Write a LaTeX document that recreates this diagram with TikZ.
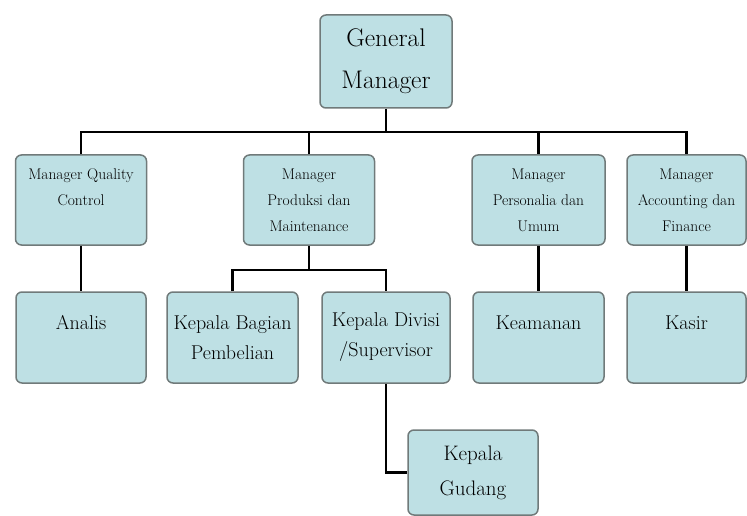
\documentclass[tikz,border=0pt]{standalone}
\usetikzlibrary{calc}
\definecolor{boxfill}{RGB}{190,224,228}
\definecolor{boxline}{RGB}{112,122,122}

\begin{document}
\begin{tikzpicture}[x=1pt,y=-1pt,
    box/.style={
      draw=boxline,
      fill=boxfill,
      line width=1.5pt,
      rounded corners=6pt,
      align=center,
      inner sep=2pt,
      minimum width=131pt,
      minimum height=90pt
    }]
\tikzset{lvlone/.style = {box,font=\fontsize{15.5}{26}\selectfont}}
\tikzset{lvltwo/.style = {box,minimum height=91pt,font=\fontsize{20}{30}\selectfont}}
\tikzset{link/.style = {line width=2.8pt,black}}
\useasboundingbox (0,0) rectangle (747,516);
\node[box,minimum width=132pt,minimum height=93pt,font=\fontsize{25.5}{42}\selectfont] (gm) at (386,61.5) {General\\Manager};
\node[lvlone] (qc) at (81,200) {Manager Quality\\Control\\\mbox{}};
\node[lvlone] (prod) at (309,200) {Manager\\Produksi dan\\Maintenance};
\node[lvlone,minimum width=133pt] (pers) at (538.5,200) {Manager\\Personalia dan\\Umum};
\node[lvlone,minimum width=119pt] (acc) at (686.5,200) {Manager\\Accounting dan\\Finance};
\node[lvltwo,minimum width=130pt] (analis) at (81,337.5) {Analis\\\mbox{}};
\node[lvltwo] (bagian) at (232.5,337.5) {Kepala Bagian\\Pembelian};
\node[lvltwo,minimum width=128pt] (divisi) at (386,337.5) {Kepala Divisi\\/Supervisor};
\node[lvltwo] (keamanan) at (538.5,337.5) {Keamanan\\\mbox{}};
\node[lvltwo,minimum width=119pt] (kasir) at (686.5,337.5) {Kasir\\\mbox{}};
\node[box,minimum width=130pt,minimum height=85pt,font=\fontsize{21}{35}\selectfont] (gudang) at (473,472.5) {Kepala\\Gudang};
\coordinate (bus) at (386,132);
\coordinate (subbus) at (309,270);
\draw[link] (gm.south) -- (bus);
\draw[link] (qc.north) |- (bus) -| (acc.north);
\draw[link] (prod.north |- bus) -- (prod.north);
\draw[link] (pers.north |- bus) -- (pers.north);
\draw[link] (qc.south) -- (analis.north);
\draw[link] (prod.south) -- (subbus);
\draw[link] (bagian.north) |- (subbus) -| (divisi.north);
\draw[link] (divisi.south) |- (gudang.west);
\draw[link] (pers.south) -- (keamanan.north);
\draw[link] (acc.south) -- (kasir.north);
\end{tikzpicture}
\end{document}
